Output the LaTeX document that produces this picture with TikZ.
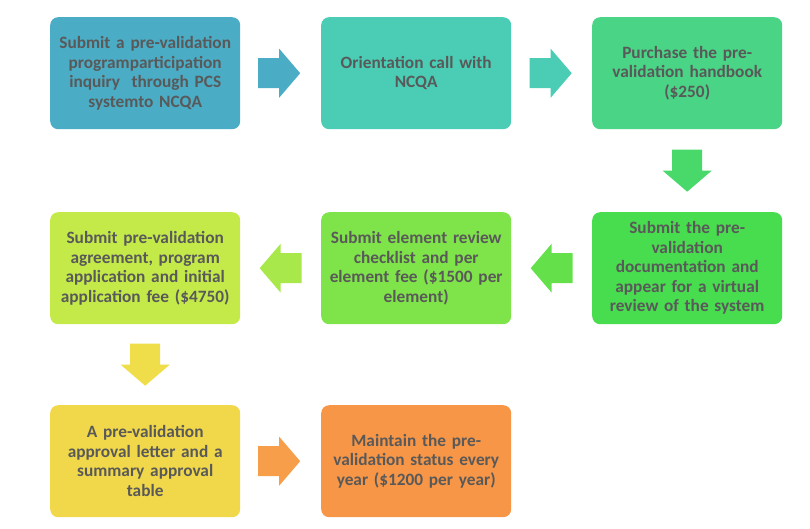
\documentclass[tikz,border=0pt]{standalone}
\usepackage{fontspec}
\setmainfont{Carlito}
\usetikzlibrary{calc}
\definecolor{txt}{HTML}{595959}
\definecolor{c1}{HTML}{4BACC6}
\definecolor{c2}{HTML}{4ACDB4}
\definecolor{c3}{HTML}{49D486}
\definecolor{c4}{HTML}{48DC4F}
\definecolor{c5}{HTML}{7FE44A}
\definecolor{c6}{HTML}{C4EA4A}
\definecolor{c7}{HTML}{F1D84A}
\definecolor{c8}{HTML}{F79646}
\definecolor{a1}{HTML}{4BACC6}
\definecolor{a2}{HTML}{4ACDB4}
\definecolor{a3}{HTML}{49D86A}
\definecolor{a4}{HTML}{64E04A}
\definecolor{a5}{HTML}{A8E84A}
\definecolor{a6}{HTML}{EFDE49}
\definecolor{a7}{HTML}{F79E4A}
\begin{document}
\begin{tikzpicture}[x=1pt,y=-1pt,
  box/.style={rounded corners=8pt, minimum width=190pt, minimum height=112pt,
    text width=188pt, align=center, inner sep=0pt, anchor=north west,
    font=\bfseries\fontsize{17.3}{19.5}\selectfont, text=txt},
  blockarrow/.pic={\fill[pic actions] (-21,-15) -- (0,-15) -- (0,-24.5) -- (21,0)
     -- (0,24.5) -- (0,15) -- (-21,15) -- cycle;}]
\useasboundingbox (0,0) rectangle (810,528);
\node[box, fill=c1] (b1) at (50,17) {Submit a pre-validation\\ programparticipation\\ inquiry\ \ through PCS\\ systemto NCQA};
\node[box, fill=c2] (b2) at (321,17) {Orientation call with\\ NCQA};
\node[box, fill=c3] (b3) at (592,17) {Purchase the pre-\\ validation handbook\\ (\$250)};
\node[box, fill=c4] (b4) at (592,212) {Submit the pre-\\ validation\\ documentation and\\ appear for a virtual\\ review of the system};
\node[box, fill=c5] (b5) at (321,212) {Submit element review\\ checklist and per\\ element fee (\$1500 per\\ element)};
\node[box, fill=c6] (b6) at (50,212) {Submit pre-validation\\ agreement, program\\ application and initial\\ application fee (\$4750)};
\node[box, fill=c7] (b7) at (50,405) {A pre-validation\\ approval letter and a\\ summary approval\\ table};
\node[box, fill=c8] (b8) at (321,405) {Maintain the pre-\\ validation status every\\ year (\$1200 per year)};
\pic[fill=a1] at ($(b1.east)!0.5!(b2.west)+(-1.5,0)$) {blockarrow};
\pic[fill=a2] at ($(b2.east)!0.5!(b3.west)+(-1,0)$) {blockarrow};
\pic[fill=a3, rotate=-90] at ($(b3.south)!0.5!(b4.north)$) {blockarrow};
\pic[fill=a4, rotate=180] at ($(b4.west)!0.5!(b5.east)$) {blockarrow};
\pic[fill=a5, rotate=180] at ($(b5.west)!0.5!(b6.east)$) {blockarrow};
\pic[fill=a6, rotate=-90] at ($(b6.south)!0.5!(b7.north)$) {blockarrow};
\pic[fill=a7] at ($(b7.east)!0.5!(b8.west)+(-1.5,0)$) {blockarrow};
\end{tikzpicture}
\end{document}
